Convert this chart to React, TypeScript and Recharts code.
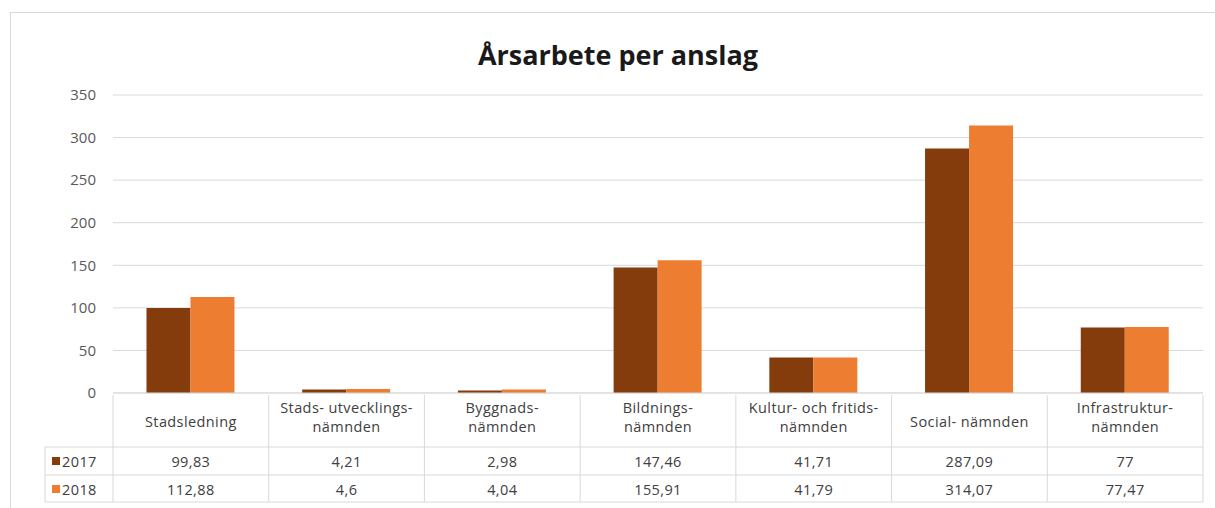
import React from 'react';
import { BarChart, Bar, XAxis, YAxis, CartesianGrid } from 'recharts';

const categories = [
  'Stadsledning',
  'Stads- utvecklings-\nnämnden',
  'Byggnads-\nnämnden',
  'Bildnings-\nnämnden',
  'Kultur- och fritids-\nnämnden',
  'Social- nämnden',
  'Infrastruktur-\nnämnden',
];
const values2017 = [99.83, 4.21, 2.98, 147.46, 41.71, 287.09, 77];
const values2018 = [112.88, 4.6, 4.04, 155.91, 41.79, 314.07, 77.47];
const yTicks = [0, 50, 100, 150, 200, 250, 300, 350];
const seriesNames = ['2017', '2018'];

const data = categories.map((name, i) => ({
  name,
  v2017: values2017[i],
  v2018: values2018[i],
}));

const W = 1215;
const H = 508;
const PLOT_LEFT = 113;
const PLOT_RIGHT = 1203;
const COL_W = (PLOT_RIGHT - PLOT_LEFT) / categories.length;
const FONT = '"Open Sans", "Noto Sans", sans-serif';
const LINE = '#d9d9d9';
const TEXT = '#404040';
const C2017 = '#843c0c';
const C2018 = '#ed7d31';

const fmt = (v: number) => String(v).replace('.', ',');

const TableTick = (props: any) => {
  const { x, y, payload } = props;
  const i = payload.index;
  const left = x - COL_W / 2;
  const right = x + COL_W / 2;
  const lines = String(payload.value).split('\n');
  const r1 = y + 54;
  const r2 = y + 82;
  const r3 = y + 109;
  return (
    <g fontFamily={FONT} fontSize={14.5} fill={TEXT} letterSpacing={0.4}>
      <line x1={right} y1={y + 2} x2={right} y2={r3} stroke={LINE} />
      {i === 0 && <line x1={left} y1={y + 2} x2={left} y2={r3} stroke={LINE} />}
      <line x1={i === 0 ? 45 : left} y1={r1} x2={right} y2={r1} stroke={LINE} />
      <line x1={i === 0 ? 45 : left} y1={r2} x2={right} y2={r2} stroke={LINE} />
      <line x1={i === 0 ? 45 : left} y1={r3} x2={right} y2={r3} stroke={LINE} />
      {i === 0 && <line x1={45} y1={r1} x2={45} y2={r3} stroke={LINE} />}
      {lines.map((t, k) => (
        <text
          key={k}
          x={x}
          y={lines.length === 1 ? y + 34 : y + 20 + k * 19}
          textAnchor="middle"
          fill={TEXT}
        >
          {t}
        </text>
      ))}
      <text x={x} y={r1 + 20} textAnchor="middle" fill={TEXT}>
        {fmt(values2017[i])}
      </text>
      <text x={x} y={r2 + 20} textAnchor="middle" fill={TEXT}>
        {fmt(values2018[i])}
      </text>
      {i === 0 &&
        seriesNames.map((s, k) => (
          <g key={s}>
            <rect x={52} y={(k === 0 ? r1 : r2) + 10} width={8} height={8} fill={k === 0 ? C2017 : C2018} />
            <text x={62} y={(k === 0 ? r1 : r2) + 20} fill={TEXT}>
              {s}
            </text>
          </g>
        ))}
    </g>
  );
};

export default function App() {
  return (
    <div style={{ position: 'absolute', left: 0, top: 0, width: W, height: H, background: '#fff', overflow: 'hidden' }}>
      <div
        style={{
          position: 'absolute',
          left: 10,
          top: 12,
          width: W,
          height: H,
          border: '1px solid #d9d9d9',
          boxSizing: 'border-box',
        }}
      />
      <div
        style={{
          position: 'absolute',
          left: 0,
          top: 36,
          width: 1236,
          textAlign: 'center',
          fontFamily: FONT,
          fontWeight: 700,
          fontSize: 27,
          lineHeight: '37px',
          color: '#1a1a1a',
        }}
      >
        Årsarbete per anslag
      </div>
      <div style={{ position: 'absolute', left: 0, top: 0 }}>
        <BarChart
          width={W}
          height={H}
          data={data}
          margin={{ top: 95, right: W - PLOT_RIGHT, left: PLOT_LEFT - 60, bottom: 0 }}
          barCategoryGap="21.5%"
          barGap={0}
        >
          <CartesianGrid vertical={false} stroke={LINE} />
          <YAxis
            width={60}
            domain={[0, 350]}
            ticks={yTicks}
            axisLine={false}
            tickLine={false}
            tickMargin={11}
            tick={{ fontFamily: FONT, fontSize: 15, fill: '#595959' }}
          />
          <XAxis
            dataKey="name"
            height={115}
            axisLine={{ stroke: LINE }}
            tickLine={false}
            tickSize={0}
            tickMargin={0}
            interval={0}
            tick={<TableTick />}
          />
          <Bar dataKey="v2017" name="2017" fill={C2017} isAnimationActive={false} />
          <Bar dataKey="v2018" name="2018" fill={C2018} isAnimationActive={false} />
        </BarChart>
      </div>
    </div>
  );
}
